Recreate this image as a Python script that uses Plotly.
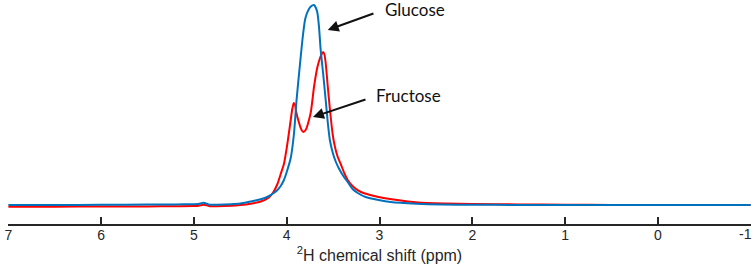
import plotly.graph_objects as go

# x positions (ppm) and intensities (arbitrary units)
glucose_ppm = [7.0, 6.5, 6.0, 5.5, 5.2, 5.0, 4.95, 4.92, 4.895, 4.87, 4.83, 4.75, 4.6, 4.5, 4.39, 4.28,
               4.2, 4.14, 4.1, 4.065, 4.03, 4.0, 3.957, 3.921, 3.894, 3.86, 3.831, 3.803, 3.785,
               3.766, 3.74, 3.706, 3.685, 3.669, 3.652, 3.634, 3.608, 3.58,
               3.558, 3.535, 3.503, 3.47, 3.44, 3.39, 3.343, 3.29, 3.235, 3.15, 3.01, 2.88, 2.6, 2.34,
               2.0, 1.5, 1.0, 0.5, 0.0, -0.5, -1.0]
glucose_int = [19, 19, 19.2, 19.4, 19.6, 19.8, 20, 20.8, 21.3, 20.5, 19.3, 19.3, 19.8, 20.5, 22.5, 24.7,
               27.5, 31, 34, 38, 44, 52, 66, 91, 124, 157, 184, 204, 210,
               214, 217.5, 219, 216, 211, 197, 174, 151, 124,
               102, 84, 71, 62, 56, 48, 42, 35, 31, 27, 24, 22, 20.3, 19.5,
               19.2, 19.1, 19, 19, 19, 19, 19]

fructose_ppm = [7.0, 6.5, 6.0, 5.5, 5.2, 5.0, 4.95, 4.92, 4.89, 4.86, 4.83, 4.75, 4.6, 4.5, 4.39, 4.28,
                4.2, 4.15, 4.1, 4.065, 4.03, 4.0, 3.978, 3.957, 3.94, 3.924, 3.91, 3.9, 3.885, 3.86,
                3.84, 3.82, 3.79, 3.76, 3.74, 3.723, 3.706, 3.669, 3.641, 3.623, 3.608, 3.595, 3.58,
                3.558, 3.544, 3.526, 3.505, 3.493, 3.472, 3.45, 3.418, 3.38, 3.343, 3.28, 3.20, 3.1,
                3.01, 2.85, 2.585, 2.3, 2.0, 1.5, 1.0, 0.5, 0.0, -0.5, -1.0]
fructose_int = [17.3, 17.3, 17.5, 17.6, 17.8, 18, 18.3, 18.8, 19.3, 18.6, 17.8, 17.8, 18.3, 19, 20.3, 22.5,
                26, 31, 40, 50, 60, 76, 90, 104, 115, 121, 119, 113, 107, 99,
                94, 92, 95, 104, 112, 124, 137, 157, 166, 170, 172, 170, 161,
                138, 124, 107, 90, 83, 74, 67, 60, 51, 44, 37, 32, 29,
                27, 24.5, 21.5, 20.5, 20, 19.6, 19.3, 19.1, 19, 19, 19]

tick_vals = [7, 6, 5, 4, 3, 2, 1, 0, -1]
tick_text = ["7", "6", "5", "4", "3", "2", "1", "0", ""]
edge_tick_val = -1
edge_tick_text = "-1"

tick_font = dict(family="Liberation Sans, Arial, sans-serif", size=14, color="#262626")

fig = go.Figure()
fig.add_trace(go.Scatter(x=fructose_ppm, y=fructose_int, mode="lines", name="Fructose",
                         line=dict(color="#ff0000", width=2, shape="spline", smoothing=0.6)))
fig.add_trace(go.Scatter(x=glucose_ppm, y=glucose_int, mode="lines", name="Glucose",
                         line=dict(color="#0072BD", width=2, shape="spline", smoothing=0.6)))

ann_font = dict(family="Lato, Open Sans, sans-serif", size=17, color="#111111")
# arrows (no text) and labels
fig.add_annotation(x=3.558, y=194, ax=3.049, ay=211, axref="x", ayref="y", xref="x", yref="y",
                   text="", showarrow=True, arrowhead=2, arrowsize=1.1, arrowwidth=2, arrowcolor="#111111")
fig.add_annotation(x=2.965, y=215, xref="x", yref="y", text="Glucose", showarrow=False,
                   xanchor="left", yanchor="middle", font=ann_font)
fig.add_annotation(x=3.717, y=107, ax=3.135, ay=125, axref="x", ayref="y", xref="x", yref="y",
                   text="", showarrow=True, arrowhead=2, arrowsize=1.1, arrowwidth=2, arrowcolor="#111111")
fig.add_annotation(x=3.062, y=129, xref="x", yref="y", text="Fructose", showarrow=False,
                   xanchor="left", yanchor="middle", font=ann_font)
# last tick label, kept inside the page edge
fig.add_annotation(x=edge_tick_val, y=0, xref="x", yref="paper", text=edge_tick_text, showarrow=False,
                   xanchor="right", yanchor="middle", xshift=3, yshift=-10, font=tick_font)

fig.update_layout(
    width=754, height=271,
    margin=dict(l=8, r=3, t=0, b=47),
    paper_bgcolor="white", plot_bgcolor="white",
    showlegend=False,
    xaxis=dict(range=[7.004, -1.004], tickvals=tick_vals, ticktext=tick_text,
               automargin=False, ticklabelstandoff=-3,
               showgrid=False, zeroline=False, showline=True, linecolor="#262626", linewidth=1.5,
               ticks="inside", ticklen=7, tickwidth=1.5, tickcolor="#262626",
               tickfont=tick_font,
               title=dict(text="<sup>2</sup>H chemical shift (ppm)", standoff=8,
                          font=dict(family="Liberation Sans, Arial, sans-serif", size=16, color="#262626"))),
    yaxis=dict(range=[0, 224], visible=False, showgrid=False, zeroline=False),
)

fig.write_html("out.html", config={"displayModeBar": False},
               post_script="document.body.style.margin='0';document.body.style.padding='0';")
